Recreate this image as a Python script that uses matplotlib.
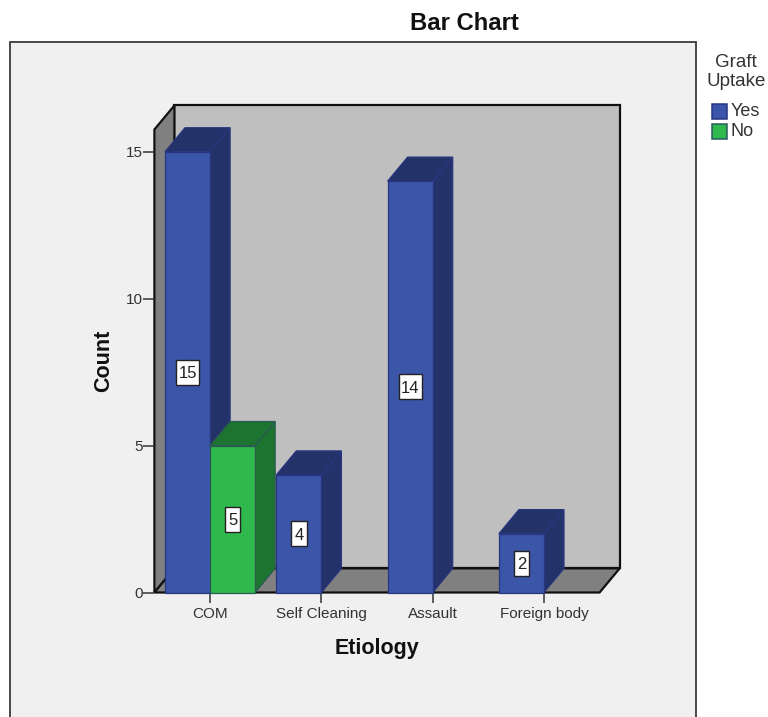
import matplotlib
matplotlib.use("Agg")
import matplotlib.pyplot as plt
from matplotlib.patches import Polygon, Rectangle

plt.rcParams['font.family'] = ['Liberation Sans', 'DejaVu Sans']

categories = ["COM", "Self Cleaning", "Assault", "Foreign body"]
yes_counts = [15, 4, 14, 2]
no_counts = [5, 0, 0, 0]
y_ticks = [0, 5, 10, 15]
legend_title = "Graft\nUptake"
legend_labels = ["Yes", "No"]

W, H = 768, 717
fig = plt.figure(figsize=(W / 100, H / 100), dpi=100, facecolor="white")

# Grey chart panel (figure pixel layout)
fig.patches.append(Rectangle((10 / W, -0.01), 686 / W, 1.01 - 42 / H,
                             transform=fig.transFigure, facecolor="#f0f0f0",
                             edgecolor="#3a3a3a", linewidth=1.3, zorder=-5))

PX_L, PX_R, PX_B, PX_T = 154.4, 599.6, 592.5, 129.5
ax = fig.add_axes([PX_L / W, 1 - PX_B / H, (PX_R - PX_L) / W, (PX_B - PX_T) / H])
ax.set_xlim(-0.5, 3.5)
ax.set_ylim(0, 15.76)
ax.patch.set_alpha(0)
for s in ax.spines.values():
    s.set_visible(False)

DX, DY = 0.18, 0.82
BW = 0.405
xl, xr, top = -0.5, 3.5, 15.76
BLUE, BLUE_D = "#3b55a8", "#233268"
GREEN, GREEN_D = "#2fb84c", "#1d7431"
EDGE = "#2a3580"


def poly(pts, fc, ec="#111111", lw=1.6, z=1):
    ax.add_patch(Polygon(pts, closed=True, facecolor=fc, edgecolor=ec,
                         linewidth=lw, zorder=z, clip_on=False, joinstyle="miter"))


# Walls and floor
poly([(xl + DX, DY), (xr + DX, DY), (xr + DX, top + DY), (xl + DX, top + DY)], "#bfbfbf")
poly([(xl, 0), (xl + DX, DY), (xl + DX, top + DY), (xl, top)], "#808080")
poly([(xl, 0), (xr, 0), (xr + DX, DY), (xl + DX, DY)], "#808080")


def bar3d(x0, h, fc, side, ec, z):
    x1 = x0 + BW
    poly([(x1, 0), (x1 + DX, DY), (x1 + DX, h + DY), (x1, h)], side, ec, 0.9, z)
    poly([(x0, h), (x1, h), (x1 + DX, h + DY), (x0 + DX, h + DY)], side, ec, 0.9, z)
    poly([(x0, 0), (x1, 0), (x1, h), (x0, h)], fc, ec, 0.9, z)


def value_label(xc, v):
    s = str(v)
    w = 0.205 if len(s) > 1 else 0.14
    hh = 0.85
    ax.add_patch(Rectangle((xc - w / 2, v / 2 - hh / 2), w, hh, facecolor="white",
                           edgecolor="#222222", linewidth=1.0, zorder=20))
    ax.text(xc, v / 2, s, ha="center", va="center_baseline", fontsize=12,
            color="#222222", zorder=21)


for i, (y, n) in enumerate(zip(yes_counts, no_counts)):
    z = 3 + 2 * i
    if n > 0:
        bar3d(i, n, GREEN, GREEN_D, "#2a5a50", z + 0.5)
        value_label(i + BW / 2, n)
    if y > 0:
        bar3d(i - BW, y, BLUE, BLUE_D, EDGE, z)
        value_label(i - BW / 2, y)

ax.set_xticks(range(len(categories)), categories)
ax.set_yticks(y_ticks)
ax.tick_params(axis="x", length=7, width=1.1, color="#333333", labelsize=11,
               labelcolor="#333333", pad=3.5)
ax.tick_params(axis="y", length=8, width=1.1, color="#333333", labelsize=11,
               labelcolor="#333333", pad=0.5)
ax.set_xlabel("Etiology", fontsize=15.5, fontweight="bold", color="#111111", labelpad=12.5)
ax.set_ylabel("Count", fontsize=15.5, fontweight="bold", color="#111111", labelpad=8.5)

fig.text(464 / W, 1 - 24 / H, "Bar Chart", ha="center", va="center", fontsize=17.2,
         fontweight="bold", color="#111111")

# Legend
fig.text(736 / W, 1 - 72 / H, legend_title, ha="center", va="center", fontsize=13.5,
         color="#333333", linespacing=1.2)
for lab, col, edge, yc in zip(legend_labels, [BLUE, GREEN], [EDGE, "#2a5a60"], [111, 131]):
    fig.patches.append(Rectangle((712 / W, 1 - (yc + 7.5) / H), 15 / W, 15 / H,
                                 transform=fig.transFigure, facecolor=col,
                                 edgecolor=edge, linewidth=1.1))
    fig.text(731 / W, 1 - yc / H, lab, ha="left", va="center", fontsize=13, color="#333333")

fig.savefig("out.png", dpi=100)
